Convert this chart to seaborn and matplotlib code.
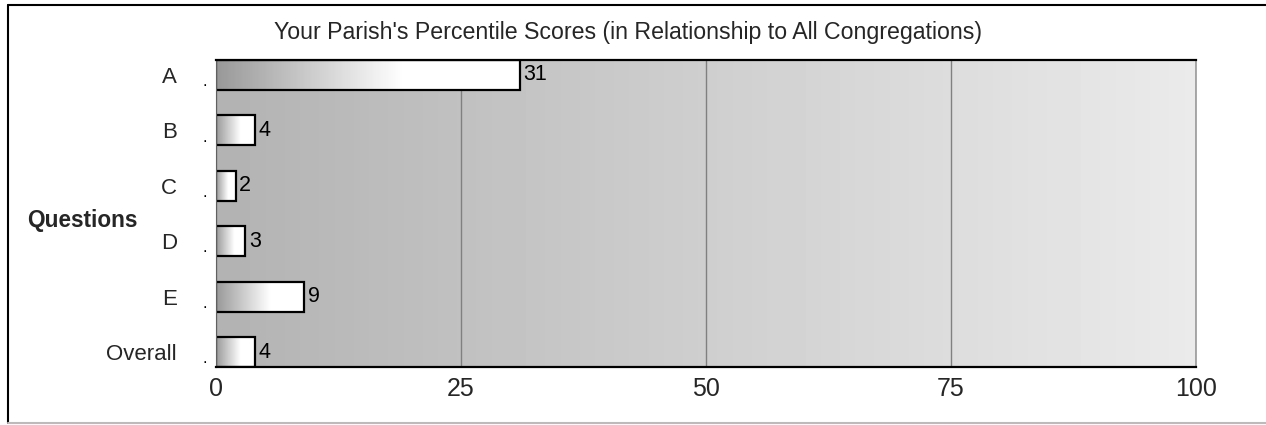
"""Percentiles de la parroquia frente a todas las congregaciones."""

import matplotlib.pyplot as plt
import matplotlib.transforms as mtransforms
from matplotlib.lines import Line2D
import numpy as np
import pandas as pd
import seaborn as sns

# ---------------------------------------------------------------------------
# Datos
# ---------------------------------------------------------------------------
preguntas = ["A", "B", "C", "D", "E", "Overall"]
percentiles = [31, 4, 2, 3, 9, 4]
ticks_x = [0, 25, 50, 75, 100]

titulo = "Your Parish's Percentile Scores (in Relationship to All Congregations)"
etiqueta_y = "Questions"

GRIS_FONDO_IZQ = 0.70
GRIS_FONDO_DER = 0.92
GRIS_BARRA_IZQ = 0.60
GRIS_BARRA_DER = 1.00

sns.set_theme(style="white")
plt.rcParams["font.family"] = ["Liberation Sans", "DejaVu Sans"]

df = pd.DataFrame({"pregunta": preguntas, "percentil": percentiles})

fig = plt.figure(figsize=(12.66, 4.25), dpi=100)
W, H = 1266, 425
ax = fig.add_axes([216 / W, 1 - 367 / H, (1196 - 216) / W, (367 - 60) / H])

sns.barplot(data=df, x="percentil", y="pregunta", orient="h", width=0.54,
            color="white", edgecolor="black", linewidth=1.6, ax=ax, zorder=2)

ax.set_xlim(0, 100)
ax.set_ylim(len(preguntas) - 1 + 0.27, -0.27)

# fondo gris degradado
grad = np.linspace(GRIS_FONDO_IZQ, GRIS_FONDO_DER, 256).reshape(1, -1)
ax.imshow(grad, cmap="gray", vmin=0, vmax=1, aspect="auto", zorder=0,
          extent=(0, 100, len(preguntas) - 1 + 0.27, -0.27))

# degradado dentro de cada barra
for barra in ax.patches:
    x0, y0 = barra.get_x(), barra.get_y()
    w, h = barra.get_width(), barra.get_height()
    g = np.clip(np.linspace(GRIS_BARRA_IZQ, GRIS_BARRA_DER + 0.25, 128), 0, 1)
    im = ax.imshow(g.reshape(1, -1), cmap="gray", vmin=0, vmax=1, aspect="auto",
                   zorder=1.5, extent=(x0, x0 + w, y0 + h, y0))
    im.set_clip_path(barra)
    barra.set_facecolor("none")

for i, v in enumerate(percentiles):
    ax.text(v + 0.35, i, f"{v}", va="center", ha="left", fontsize=15.5,
            color="black", zorder=3)

ax.set_xticks(ticks_x)
ax.set_xticklabels([str(t) for t in ticks_x], fontsize=18)
ax.set_yticks(range(len(preguntas)))
ax.set_yticklabels(preguntas, fontsize=16)
ax.tick_params(axis="x", length=0, pad=7)
ax.tick_params(axis="y", length=0, pad=28)
ax.set_xlabel("")
ax.set_ylabel("")

ax.grid(axis="x", color="#808080", linewidth=1.0)
ax.grid(axis="y", visible=False)
ax.set_axisbelow(True)

for lado in ["top", "bottom"]:
    ax.spines[lado].set_color("black")
    ax.spines[lado].set_linewidth(1.6)
ax.spines["left"].set_color("#606060")
ax.spines["left"].set_linewidth(0.8)
ax.spines["right"].set_color("#9a9a9a")
ax.spines["right"].set_linewidth(1.2)

# puntitos junto a cada categoría
trans = mtransforms.blended_transform_factory(ax.transAxes, ax.transData)
for i in range(len(preguntas)):
    ax.text(-0.009, i + 0.12, ".", transform=trans, ha="right", va="center",
            fontsize=12, color="black")

fig.text(628 / W, 1 - 33 / H, titulo, ha="center", va="center", fontsize=16.7)
fig.text(82 / W, 1 - 220 / H, etiqueta_y, ha="center", va="center",
         fontsize=16.3, fontweight="bold")

# marco exterior
fig.add_artist(Line2D([8 / W, 8 / W], [1 - 5 / H, 1 - 423 / H],
                      transform=fig.transFigure, color="black", lw=1.5))
fig.add_artist(Line2D([8 / W, 1], [1 - 5 / H, 1 - 5 / H],
                      transform=fig.transFigure, color="black", lw=1.5))
fig.add_artist(Line2D([8 / W, 1], [1 - 423 / H, 1 - 423 / H],
                      transform=fig.transFigure, color="#bbbbbb", lw=1.5))

fig.savefig("out.png", dpi=100)
